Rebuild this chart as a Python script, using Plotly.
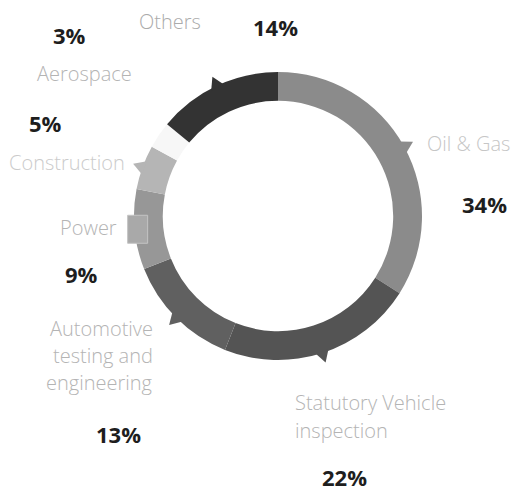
import math
import plotly.graph_objects as go

# Market share by sector (%), clockwise from 12 o'clock
sectors = ["Oil & Gas", "Statutory Vehicle inspection", "Automotive testing and engineering",
           "Power", "Construction", "Aerospace", "Others"]
shares = [34, 22, 13, 9, 5, 3, 14]
seg_colors = ["#8b8b8b", "#545454", "#606060", "#979797", "#b5b5b5", "#f7f7f7", "#333333"]
# decoration drawn on the outer edge of each segment
decor = ["barb", "barb", "barb", "square", "barb", "none", "barb"]

W, H = 518, 491
CX, CY, R_OUT = 278, 216, 144
HOLE = 0.80

fig = go.Figure()

fig.add_trace(go.Pie(
    labels=sectors, values=shares, sort=False, direction="clockwise", rotation=0,
    hole=HOLE, textinfo="none", hoverinfo="label+percent", showlegend=False,
    marker=dict(colors=seg_colors, line=dict(width=0)),
    domain=dict(x=[(CX - R_OUT) / W, (CX + R_OUT) / W],
                y=[(H - CY - R_OUT) / H, (H - CY + R_OUT) / H]),
))

# barbs / markers placed at the angular midpoint of each segment
total = sum(shares)
shapes = []
cum = 0.0
for v, c, d in zip(shares, seg_colors, decor):
    mid = (cum + v / 2) / total * 2 * math.pi
    cum += v
    ux, uy = math.sin(mid), -math.cos(mid)        # outward direction (screen y down)
    tx, ty = -uy, ux                               # tangent direction
    if d == "barb":
        bx, by = CX + ux * (R_OUT - 2), CY + uy * (R_OUT - 2)
        half, tip = 7, 12
        p1 = (bx - tx * half, by - ty * half)
        p2 = (bx + tx * half, by + ty * half)
        p3 = (bx + ux * tip, by + uy * tip)
        path = "M{:.1f},{:.1f} L{:.1f},{:.1f} L{:.1f},{:.1f} Z".format(*p1, *p2, *p3)
        shapes.append(dict(type="path", xref="x", yref="y", path=path,
                           fillcolor=c, line=dict(width=0), layer="above"))
    elif d == "square":
        rm = R_OUT - 3
        sx, sy = CX + ux * rm, CY + uy * rm
        shapes.append(dict(type="rect", xref="x", yref="y",
                           x0=sx - 10, x1=sx + 10, y0=sy - 14, y1=sy + 14,
                           fillcolor="#a9a9a9", line=dict(width=1, color="#c4c4c4"),
                           layer="above"))

NAME_FONT = dict(family="Open Sans, sans-serif", size=20, color="#b4b4b4", weight=300)
PCT_FONT = dict(family="Open Sans, sans-serif", size=22, color="#1e1e1e", weight="bold")

names = [
    ("Others", 170, 21, "center", "#ababab"),
    ("Aerospace", 84, 73, "center", "#b4b4b4"),
    ("Construction", 67, 162, "center", "#cbcbcb"),
    ("Power", 88, 227, "center", "#b4b4b4"),
    ("Automotive", 155, 328, "right", "#b4b4b4"),
    ("testing and", 155, 355, "right", "#b4b4b4"),
    ("engineering", 155, 382, "right", "#b4b4b4"),
    ("Oil & Gas", 425, 143, "left", "#c6c6c6"),
    ("Statutory Vehicle", 293, 402, "left", "#b4b4b4"),
    ("inspection", 293, 430, "left", "#b4b4b4"),
]
pct_pos = {"Others": (275, 27), "Aerospace": (69, 35), "Construction": (45, 123),
           "Power": (81, 274), "Automotive testing and engineering": (118, 434),
           "Oil & Gas": (484, 204), "Statutory Vehicle inspection": (344, 477)}

annotations = []
for txt, x, y, al, col in names:
    annotations.append(dict(text=txt, x=x, y=y, xref="x", yref="y", showarrow=False,
                            xanchor=al, yanchor="middle",
                            font=dict(NAME_FONT, color=col)))
for s, v in zip(sectors, shares):
    x, y = pct_pos[s]
    annotations.append(dict(text=f"{v}%", x=x, y=y, xref="x", yref="y", showarrow=False,
                            xanchor="center", yanchor="middle", font=PCT_FONT))

fig.update_layout(
    width=W, height=H, margin=dict(l=0, r=0, t=0, b=0),
    paper_bgcolor="white", plot_bgcolor="rgba(0,0,0,0)",
    xaxis=dict(range=[0, W], visible=False, fixedrange=True),
    yaxis=dict(range=[H, 0], visible=False, fixedrange=True),
    shapes=shapes, annotations=annotations,
)

fig.write_html("out.html")
